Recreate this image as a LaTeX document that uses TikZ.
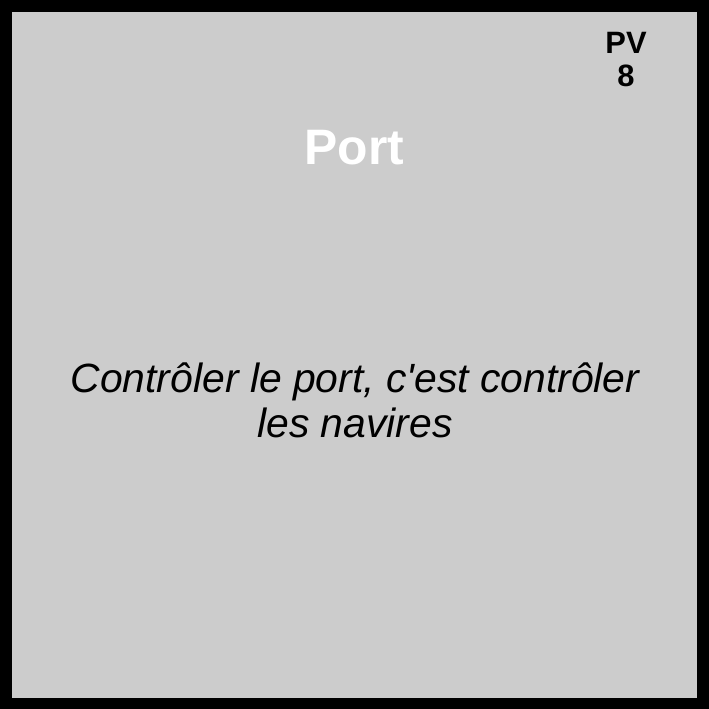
\documentclass[tikz,border=0pt]{standalone}
\usepackage{fontspec}
\setmainfont{Liberation Sans}[Ligatures=TeXOff]
\definecolor{cardgray}{HTML}{CCCCCC}

\begin{document}
\begin{tikzpicture}[x=1bp,y=1bp]

\fill[black] (0,0) rectangle (709,709);
\fill[cardgray] (12,11) rectangle (697,697);

% anchor=base sits on the last line
\node[anchor=base,inner sep=0pt,font=\fontsize{31}{34}\selectfont\bfseries,align=center] (pv) at (626,622) {PV\\8};
\node[anchor=base,inner sep=0pt,text=white,font=\fontsize{50}{56}\selectfont\bfseries] (title) at (354.5,544) {Port};
\node[anchor=base,inner sep=0pt,font=\fontsize{41}{46}\selectfont\itshape,align=center] (motto) at (355,271) {Contrôler le port, c'est contrôler\\les navires};

\end{tikzpicture}
\end{document}
